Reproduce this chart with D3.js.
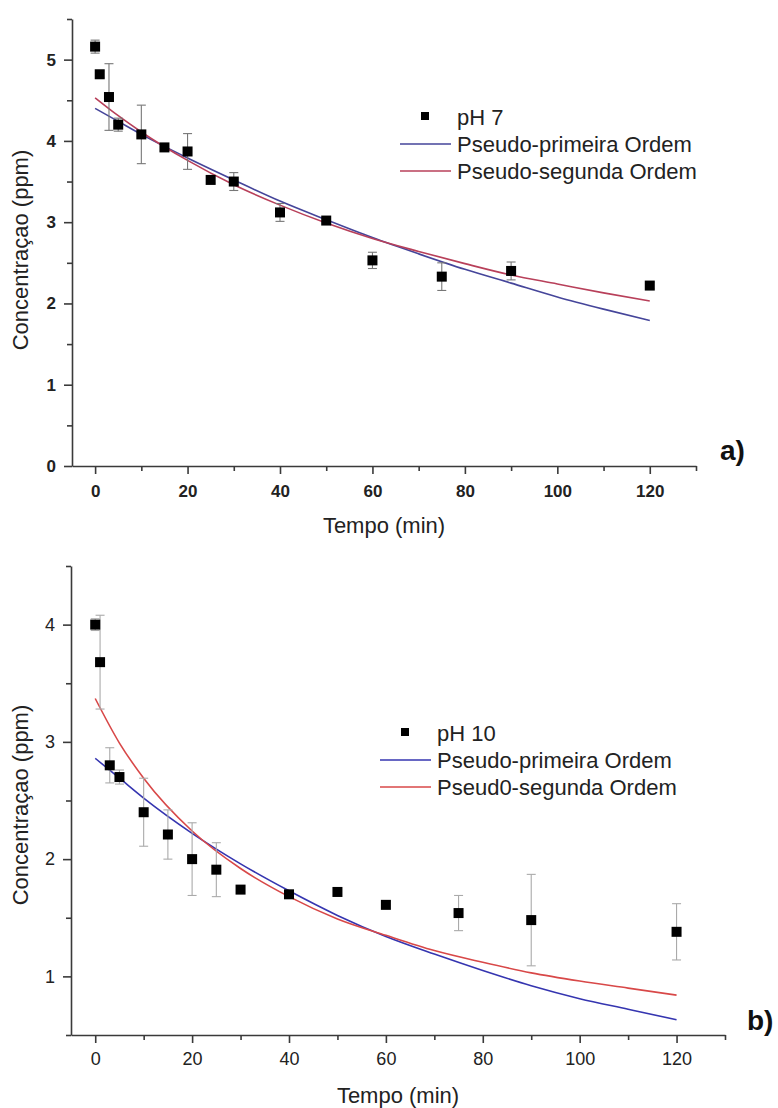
<!DOCTYPE html>
<html>
<head>
<meta charset="utf-8">
<script src="https://cdn.jsdelivr.net/npm/d3@7"></script>
<style>
  body { margin: 0; background: #fff; }
  svg { display: block; font-family: "Liberation Sans", Arial, sans-serif; }
</style>
</head>
<body>
<div id="chart"></div>
<script>
// measured points (time in min, concentration in ppm, error bar half-height)
var timePts = [0, 1, 3, 5, 10, 15, 20, 25, 30, 40, 50, 60, 75, 90, 120];

var concA = [5.16, 4.82, 4.54, 4.20, 4.08, 3.92, 3.87, 3.52, 3.50, 3.12, 3.02, 2.53, 2.33, 2.40, 2.22];
var errA  = [0.08, 0.04, 0.41, 0.08, 0.36, 0.04, 0.22, 0.04, 0.11, 0.11, 0.03, 0.10, 0.17, 0.11, 0.04];

var concB = [4.00, 3.68, 2.80, 2.70, 2.40, 2.21, 2.00, 1.91, 1.74, 1.70, 1.72, 1.61, 1.54, 1.48, 1.38];
var errB  = [0.05, 0.40, 0.15, 0.06, 0.29, 0.21, 0.31, 0.23, 0.03, 0.03, 0.03, 0.03, 0.15, 0.39, 0.24];

// fitted curves
var fitTime = [0, 5, 10, 20, 30, 40, 50, 60, 70, 80, 90, 100, 110, 120];
var firstA  = [4.40, 4.24, 4.08, 3.79, 3.52, 3.26, 3.03, 2.81, 2.61, 2.42, 2.25, 2.08, 1.93, 1.79];
var secondA = [4.53, 4.31, 4.11, 3.76, 3.46, 3.21, 2.99, 2.80, 2.64, 2.49, 2.35, 2.24, 2.13, 2.03];
var firstB  = [2.86, 2.69, 2.52, 2.22, 1.96, 1.73, 1.52, 1.34, 1.19, 1.05, 0.92, 0.81, 0.72, 0.63];
var secondB = [3.37, 2.99, 2.69, 2.24, 1.92, 1.68, 1.49, 1.35, 1.22, 1.12, 1.03, 0.96, 0.90, 0.84];

var xTicks = [0, 20, 40, 60, 80, 100, 120];
var xMinor = [10, 30, 50, 70, 90, 110, 130];
var yTicksA = [0, 1, 2, 3, 4, 5];
var yMinorA = [0.5, 1.5, 2.5, 3.5, 4.5, 5.5];
var yTicksB = [1, 2, 3, 4];
var yMinorB = [0.5, 1.5, 2.5, 3.5, 4.5];

var legendA = ["pH 7", "Pseudo-primeira Ordem", "Pseudo-segunda Ordem"];
var legendB = ["pH 10", "Pseudo-primeira Ordem", "Pseud0-segunda Ordem"];

var svg = d3.select("#chart")
    .append("svg")
    .attr("width", 778)
    .attr("height", 1108);

function drawPanel(p) {
    var x = d3.scaleLinear().domain([-5, 130]).range([p.left, p.right]);
    var y = d3.scaleLinear().domain(p.yDomain).range([p.bottom, p.top]);
    var g = svg.append("g");

    // minor ticks
    g.append("g")
        .attr("transform", "translate(0," + p.bottom + ")")
        .call(d3.axisBottom(x).tickValues(xMinor).tickSize(5).tickFormat(""))
        .call(function (a) { a.select(".domain").remove(); });
    g.append("g")
        .attr("transform", "translate(" + p.left + ",0)")
        .call(d3.axisLeft(y).tickValues(p.yMinor).tickSize(5).tickFormat(""))
        .call(function (a) { a.select(".domain").remove(); });

    // major axes
    var xa = g.append("g")
        .attr("transform", "translate(0," + p.bottom + ")")
        .call(d3.axisBottom(x).tickValues(xTicks).tickSize(8).tickPadding(p.xPad)
            .tickSizeOuter(0).tickFormat(d3.format("d")));
    var ya = g.append("g")
        .attr("transform", "translate(" + p.left + ",0)")
        .call(d3.axisLeft(y).tickValues(p.yTicks).tickSize(8).tickPadding(8)
            .tickSizeOuter(0).tickFormat(d3.format("d")));

    [xa, ya].forEach(function (a) {
        a.selectAll("text")
            .style("font-size", p.tickFont + "px")
            .style("font-weight", p.tickWeight)
            .attr("fill", "#222");
    });
    g.selectAll(".domain, .tick line")
        .attr("stroke", "#3a3a3a")
        .attr("stroke-width", 1.6);

    // fitted lines
    var line = d3.line()
        .x(function (d, i) { return x(fitTime[i]); })
        .y(function (d) { return y(d); })
        .curve(d3.curveMonotoneX);
    g.append("path").datum(p.first)
        .attr("d", line).attr("fill", "none")
        .attr("stroke", p.blue).attr("stroke-width", 1.6);
    g.append("path").datum(p.second)
        .attr("d", line).attr("fill", "none")
        .attr("stroke", p.red).attr("stroke-width", 1.6);

    // error bars
    var eb = g.append("g").attr("stroke", p.errColor).attr("stroke-width", 1.1);
    p.conc.forEach(function (c, i) {
        var cx = x(timePts[i]);
        var e = p.err[i];
        eb.append("line").attr("x1", cx).attr("x2", cx).attr("y1", y(c - e)).attr("y2", y(c + e));
        eb.append("line").attr("x1", cx - 4.5).attr("x2", cx + 4.5).attr("y1", y(c - e)).attr("y2", y(c - e));
        eb.append("line").attr("x1", cx - 4.5).attr("x2", cx + 4.5).attr("y1", y(c + e)).attr("y2", y(c + e));
    });

    // data squares
    g.append("g")
        .selectAll("rect")
        .data(p.conc)
        .enter()
        .append("rect")
        .attr("x", function (d, i) { return x(timePts[i]) - 5; })
        .attr("y", function (d) { return y(d) - 5; })
        .attr("width", 10)
        .attr("height", 10)
        .attr("fill", "#000");

    // axis labels
    g.append("text")
        .attr("text-anchor", "middle")
        .attr("x", (p.left + p.right) / 2)
        .attr("y", p.xLabelY)
        .style("font-size", "22px")
        .attr("fill", "#222")
        .text("Tempo (min)");
    g.append("text")
        .attr("text-anchor", "middle")
        .attr("transform", "translate(28," + p.yLabelMid + ") rotate(-90)")
        .style("font-size", "22px")
        .attr("fill", "#222")
        .text("Concentraçao (ppm)");

    // panel letter
    g.append("text")
        .attr("x", p.letterX)
        .attr("y", p.letterY)
        .style("font-size", "28px")
        .style("font-weight", "bold")
        .attr("fill", "#111")
        .text(p.letter);

    // legend
    var lg = g.append("g").attr("transform", "translate(" + p.legX + "," + p.legY + ")");
    lg.append("rect").attr("x", -36).attr("y", -13).attr("width", 8).attr("height", 8).attr("fill", "#000");
    lg.append("line").attr("x1", -57).attr("x2", -6).attr("y1", 19).attr("y2", 19)
        .attr("stroke", p.blue).attr("stroke-width", 1.6);
    lg.append("line").attr("x1", -57).attr("x2", -6).attr("y1", 46).attr("y2", 46)
        .attr("stroke", p.red).attr("stroke-width", 1.6);
    lg.selectAll("text")
        .data(p.legend)
        .enter()
        .append("text")
        .attr("x", 0)
        .attr("y", function (d, i) { return i * 27; })
        .style("font-size", "22px")
        .attr("fill", "#222")
        .text(function (d) { return d; });
}

drawPanel({
    left: 72, right: 696, top: 19, bottom: 466,
    yDomain: [0, 5.5], yTicks: yTicksA, yMinor: yMinorA,
    xPad: 11, tickFont: 17, tickWeight: "bold",
    conc: concA, err: errA, first: firstA, second: secondA,
    blue: "#45459a", red: "#b8405a", errColor: "#777",
    xLabelY: 533, yLabelMid: 250,
    letter: "a)", letterX: 720, letterY: 460,
    legend: legendA, legX: 457, legY: 125
});

drawPanel({
    left: 71, right: 725, top: 566, bottom: 1035,
    yDomain: [0.5, 4.5], yTicks: yTicksB, yMinor: yMinorB,
    xPad: 9, tickFont: 18, tickWeight: "normal",
    conc: concB, err: errB, first: firstB, second: secondB,
    blue: "#3535b0", red: "#d84848", errColor: "#aaa",
    xLabelY: 1103, yLabelMid: 805,
    letter: "b)", letterX: 747, letterY: 1030,
    legend: legendB, legX: 437, legY: 741
});
</script>
</body>
</html>
